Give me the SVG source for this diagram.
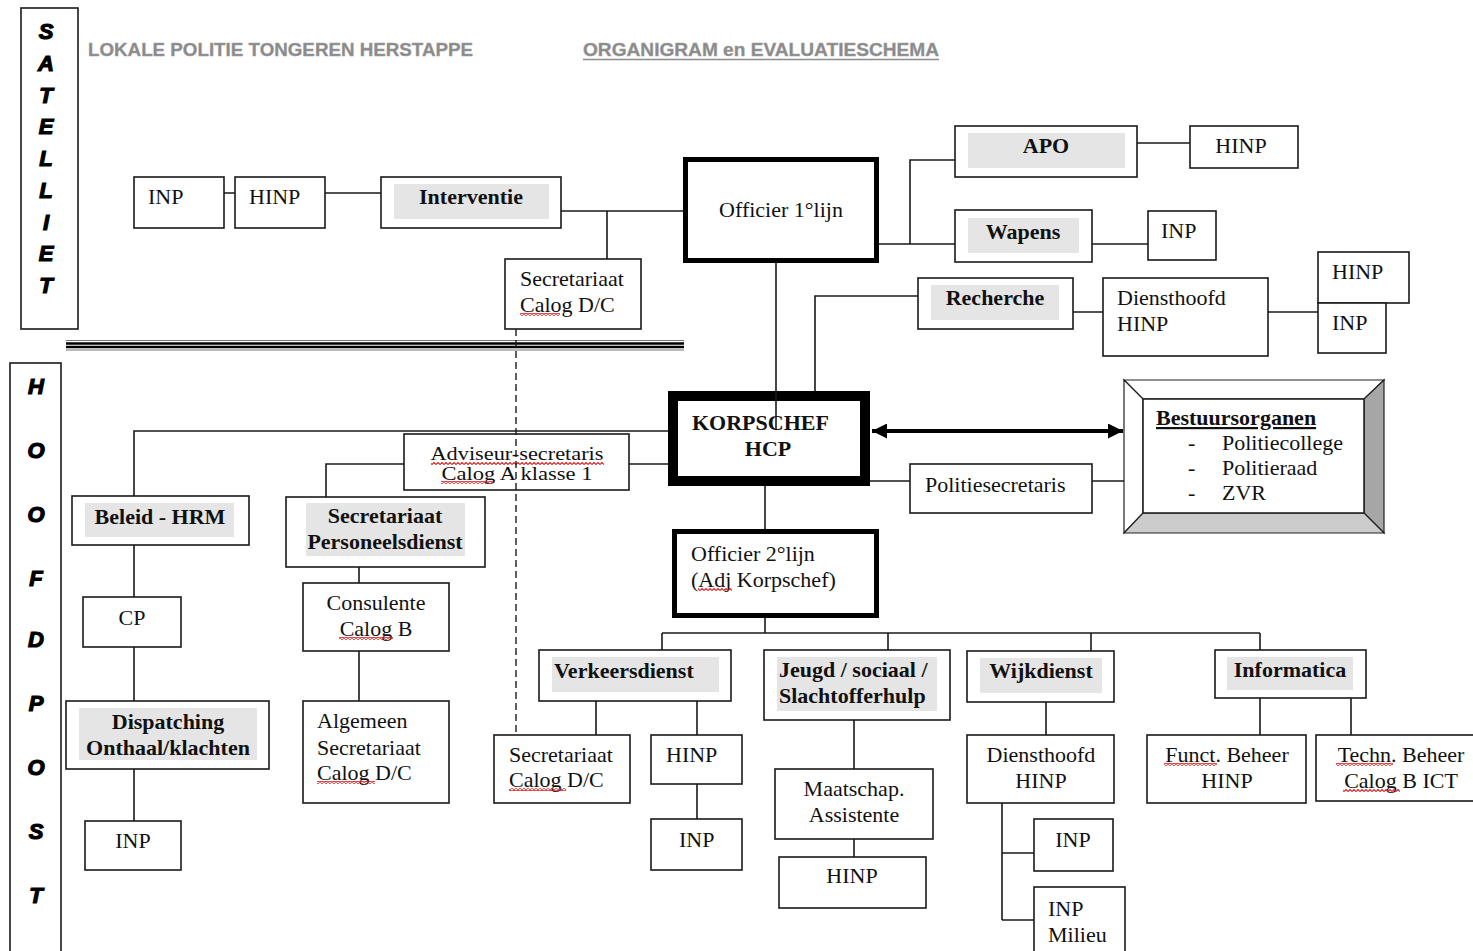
<svg xmlns="http://www.w3.org/2000/svg" width="1473" height="951" viewBox="0 0 1473 951">
<style>
.box{fill:#fff;stroke:#1a1a1a;stroke-width:1.6}
.thk{fill:#fff;stroke:#000;stroke-width:5}
.hl{fill:#e5e5e5}
.t{font-family:"Liberation Serif","Times New Roman",serif;font-size:22px;fill:#111}
.s{font-size:19px}
.b{font-weight:bold}
.c{text-anchor:middle}
.ln{stroke:#1a1a1a;stroke-width:1.6;fill:none}
.vl{font-family:"Liberation Sans",Arial,sans-serif;font-size:22px;font-weight:bold;font-style:italic;fill:#000;stroke:#000;stroke-width:1.2;text-anchor:middle}
.ttl{font-family:"Liberation Sans",Arial,sans-serif;font-size:18px;font-weight:bold;fill:#8a8a8a;stroke:#a0a0a0;stroke-width:0.4}
.sq{fill:url(#sq)}
</style>
<defs>
<pattern id="sq" width="4" height="3" patternUnits="userSpaceOnUse">
<path d="M0,2.5 L2,0.5 L4,2.5" fill="none" stroke="#e02020" stroke-width="1.1"/>
</pattern>
<marker id="ah" viewBox="0 0 10 10" refX="10" refY="5" markerWidth="17" markerHeight="15" markerUnits="userSpaceOnUse" orient="auto-start-reverse">
<path d="M0,0 L10,5 L0,10 z" fill="#000"/>
</marker>
</defs>
<rect width="1473" height="951" fill="#fff"/>

<g id="headers">
<text class="ttl" x="88" y="56" textLength="385" lengthAdjust="spacingAndGlyphs">LOKALE POLITIE TONGEREN HERSTAPPE</text>
<text class="ttl" x="583" y="56" textLength="356" lengthAdjust="spacingAndGlyphs">ORGANIGRAM en EVALUATIESCHEMA</text>
<line x1="583" y1="59.5" x2="939" y2="59.5" stroke="#8c8c8c" stroke-width="1.5"/>
</g>

<g id="satelliet">
<rect class="box" x="21" y="8" width="57" height="321"/>
<text class="vl" x="46" y="39">S</text>
<text class="vl" x="46" y="71">A</text>
<text class="vl" x="46" y="103">T</text>
<text class="vl" x="46" y="134">E</text>
<text class="vl" x="46" y="166">L</text>
<text class="vl" x="46" y="198">L</text>
<text class="vl" x="46" y="230">I</text>
<text class="vl" x="46" y="261">E</text>
<text class="vl" x="46" y="293">T</text>
</g>

<g id="hoofdpost">
<rect class="box" x="10" y="363" width="51" height="600"/>
<text class="vl" x="36" y="394">H</text>
<text class="vl" x="36" y="458">O</text>
<text class="vl" x="36" y="522">O</text>
<text class="vl" x="36" y="586">F</text>
<text class="vl" x="36" y="647">D</text>
<text class="vl" x="36" y="711">P</text>
<text class="vl" x="36" y="775">O</text>
<text class="vl" x="36" y="839">S</text>
<text class="vl" x="36" y="903">T</text>
</g>

<g id="separator">
<line x1="66" y1="340.5" x2="684" y2="340.5" stroke="#777" stroke-width="1"/>
<line x1="66" y1="343.5" x2="684" y2="343.5" stroke="#000" stroke-width="2.5"/>
<line x1="66" y1="347" x2="684" y2="347" stroke="#000" stroke-width="2.5"/>
<line x1="66" y1="350" x2="684" y2="350" stroke="#777" stroke-width="1"/>
</g>

<g id="inp-sat"><rect class="box" x="134" y="177" width="90" height="51"/><text class="t" x="148" y="204">INP</text></g>
<g id="hinp-sat"><rect class="box" x="235" y="177" width="90" height="51"/><text class="t" x="249" y="204">HINP</text></g>
<g id="interventie"><rect class="box" x="381" y="177" width="180" height="51"/><rect class="hl" x="394" y="184" width="155" height="35"/><text class="t b c" x="471" y="204">Interventie</text></g>
<g id="officier1"><rect class="thk" x="685.5" y="159.5" width="191" height="101"/><text class="t c" x="781" y="217">Officier 1°lijn</text></g>
<g id="secretariaat-top"><rect class="box" x="505" y="259" width="136" height="70"/><text class="t" x="520" y="286">Secretariaat</text><text class="t" x="520" y="312">Calog D/C</text><rect class="sq" x="520" y="313" width="40" height="3"/></g>
<g id="apo"><rect class="box" x="955" y="126" width="182" height="51"/><rect class="hl" x="968" y="133" width="157" height="35"/><text class="t b c" x="1046" y="153">APO</text></g>
<g id="hinp-apo"><rect class="box" x="1190" y="126" width="108" height="42"/><text class="t c" x="1241" y="153">HINP</text></g>
<g id="wapens"><rect class="box" x="955" y="210" width="137" height="52"/><rect class="hl" x="968" y="218" width="111" height="35"/><text class="t b c" x="1023" y="239">Wapens</text></g>
<g id="inp-wapens"><rect class="box" x="1148" y="211" width="68" height="49"/><text class="t" x="1161" y="238">INP</text></g>
<g id="recherche"><rect class="box" x="918" y="278" width="155" height="51"/><rect class="hl" x="931" y="285" width="128" height="35"/><text class="t b c" x="995" y="305">Recherche</text></g>
<g id="diensthoofd-rech"><rect class="box" x="1103" y="278" width="165" height="78"/><text class="t" x="1117" y="305">Diensthoofd</text><text class="t" x="1117" y="331">HINP</text></g>
<g id="hinp-rech"><rect class="box" x="1318" y="252" width="91" height="51"/><text class="t" x="1332" y="279">HINP</text></g>
<g id="inp-rech"><rect class="box" x="1318" y="303" width="68" height="50"/><text class="t" x="1332" y="330">INP</text></g>

<g id="korpschef"><rect x="673" y="396" width="192" height="85" fill="#fff" stroke="#000" stroke-width="10"/><text class="t b" x="692" y="430">KORPSCHEF</text><text class="t b c" x="768" y="456">HCP</text></g>
<g id="adviseur"><rect class="box" x="404" y="434" width="225" height="56"/><text class="t s c" x="517" y="460" textLength="173" lengthAdjust="spacingAndGlyphs">Adviseur-secretaris</text><text class="t s c" x="517" y="480" textLength="151" lengthAdjust="spacingAndGlyphs">Calog A klasse 1</text><rect class="sq" x="431" y="462" width="173" height="3"/><rect class="sq" x="441" y="481" width="52" height="3"/></g>
<g id="politiesecretaris"><rect class="box" x="910" y="464" width="182" height="49"/><text class="t" x="925" y="492">Politiesecretaris</text></g>
<g id="bestuursorganen">
<polygon points="1124,380 1384,380 1364,399 1143,399" fill="#fff" stroke="#222" stroke-width="1.2"/>
<polygon points="1124,380 1143,399 1143,513 1124,533" fill="#fff" stroke="#222" stroke-width="1.2"/>
<polygon points="1384,380 1384,533 1364,513 1364,399" fill="#a6a6a6" stroke="#222" stroke-width="1.2"/>
<polygon points="1124,533 1384,533 1364,513 1143,513" fill="#cccccc" stroke="#222" stroke-width="1.2"/>
<rect x="1143" y="399" width="221" height="114" fill="#fff" stroke="#222" stroke-width="1.6"/>
<text class="t b" x="1156" y="425" text-decoration="underline">Bestuursorganen</text>
<text class="t" x="1188" y="450">-</text><text class="t" x="1222" y="450">Politiecollege</text>
<text class="t" x="1188" y="475">-</text><text class="t" x="1222" y="475">Politieraad</text>
<text class="t" x="1188" y="500">-</text><text class="t" x="1222" y="500">ZVR</text>
</g>

<g id="beleid-hrm"><rect class="box" x="72" y="496" width="177" height="49"/><rect class="hl" x="85" y="503" width="149" height="34"/><text class="t b c" x="160" y="524">Beleid - HRM</text></g>
<g id="sec-personeel"><rect class="box" x="286" y="497" width="199" height="70"/><rect class="hl" x="306" y="503" width="159" height="53"/><text class="t b c" x="385" y="523">Secretariaat</text><text class="t b c" x="385" y="549">Personeelsdienst</text></g>
<g id="cp"><rect class="box" x="83" y="597" width="98" height="50"/><text class="t c" x="132" y="625">CP</text></g>
<g id="consulente"><rect class="box" x="303" y="583" width="146" height="68"/><text class="t c" x="376" y="610">Consulente</text><text class="t c" x="376" y="636">Calog B</text><rect class="sq" x="339" y="637" width="54" height="3"/></g>
<g id="dispatching"><rect class="box" x="66" y="701" width="203" height="68"/><rect class="hl" x="79" y="708" width="178" height="52"/><text class="t b c" x="168" y="729">Dispatching</text><text class="t b c" x="168" y="755">Onthaal/klachten</text></g>
<g id="inp-dispatching"><rect class="box" x="85" y="821" width="96" height="49"/><text class="t c" x="133" y="848">INP</text></g>
<g id="algemeen"><rect class="box" x="303" y="701" width="146" height="102"/><text class="t" x="317" y="728">Algemeen</text><text class="t" x="317" y="755">Secretariaat</text><text class="t" x="317" y="780">Calog D/C</text><rect class="sq" x="317" y="781" width="58" height="3"/></g>

<g id="officier2"><rect class="thk" x="674.5" y="531.5" width="202" height="84"/><text class="t" x="691" y="561">Officier 2°lijn</text><text class="t" x="691" y="587">(Adj Korpschef)</text><rect class="sq" x="698" y="588" width="34" height="3"/></g>
<g id="verkeersdienst"><rect class="box" x="539" y="650" width="192" height="51"/><rect class="hl" x="552" y="657" width="167" height="35"/><text class="t b" x="554" y="678">Verkeersdienst</text></g>
<g id="sec-verkeer"><rect class="box" x="494" y="735" width="136" height="68"/><text class="t" x="509" y="762">Secretariaat</text><text class="t" x="509" y="787">Calog D/C</text><rect class="sq" x="509" y="788" width="57" height="3"/></g>
<g id="hinp-verkeer"><rect class="box" x="651" y="735" width="91" height="49"/><text class="t" x="666" y="762">HINP</text></g>
<g id="inp-verkeer"><rect class="box" x="651" y="819" width="91" height="51"/><text class="t" x="679" y="847">INP</text></g>
<g id="jeugd"><rect class="box" x="764" y="650" width="186" height="70"/><rect class="hl" x="777" y="657" width="160" height="54"/><text class="t b" x="779" y="677">Jeugd / sociaal /</text><text class="t b" x="779" y="703">Slachtofferhulp</text></g>
<g id="maatschap"><rect class="box" x="775" y="769" width="158" height="70"/><text class="t c" x="854" y="796">Maatschap.</text><text class="t c" x="854" y="822">Assistente</text></g>
<g id="hinp-jeugd"><rect class="box" x="779" y="857" width="147" height="51"/><text class="t c" x="852" y="883">HINP</text></g>
<g id="wijkdienst"><rect class="box" x="967" y="651" width="147" height="51"/><rect class="hl" x="980" y="658" width="122" height="35"/><text class="t b c" x="1041" y="678">Wijkdienst</text></g>
<g id="diensthoofd-wijk"><rect class="box" x="967" y="735" width="147" height="68"/><text class="t c" x="1041" y="762">Diensthoofd</text><text class="t c" x="1041" y="788">HINP</text></g>
<g id="inp-wijk"><rect class="box" x="1034" y="819" width="79" height="52"/><text class="t c" x="1073" y="847">INP</text></g>
<g id="inp-milieu"><rect class="box" x="1034" y="887" width="91" height="75"/><text class="t" x="1048" y="916">INP</text><text class="t" x="1048" y="942">Milieu</text></g>
<g id="informatica"><rect class="box" x="1215" y="650" width="151" height="48"/><rect class="hl" x="1227" y="657" width="126" height="33"/><text class="t b c" x="1290" y="677">Informatica</text></g>
<g id="funct-beheer"><rect class="box" x="1147" y="735" width="159" height="68"/><text class="t c" x="1227" y="762">Funct. Beheer</text><text class="t c" x="1227" y="788">HINP</text><rect class="sq" x="1164" y="763" width="53" height="3"/></g>
<g id="techn-beheer"><rect class="box" x="1316" y="735" width="162" height="66"/><text class="t c" x="1401" y="762">Techn. Beheer</text><text class="t c" x="1401" y="788">Calog B ICT</text><rect class="sq" x="1336" y="763" width="57" height="3"/><rect class="sq" x="1343" y="789" width="57" height="3"/></g>

<g id="connectors">
<path class="ln" d="M224,193 H235 M325,193 H381 M561,211 H683 M607,211 V259"/>
<path class="ln" d="M776,263 V430"/>
<path class="ln" d="M879,244 H955 M910,244 V160 H955 M1137,143 H1190 M1092,244 H1148"/>
<path class="ln" d="M918,296 H815 V391 M1073,312 H1103 M1268,312 H1318"/>
<line x1="516" y1="329" x2="516" y2="735" stroke="#1a1a1a" stroke-width="1.4" stroke-dasharray="7,4"/>
<path class="ln" d="M668,431 H134 V496 M629,464 H668 M404,464 H326 V497"/>
<path class="ln" d="M134,545 V597 M134,647 V701 M134,769 V821 M359,567 V583 M359,651 V701"/>
<path class="ln" d="M765,486 V529 M765,618 V633 M662,633 H1260 M662,633 V650 M888,633 V650 M1091,633 V651 M1260,633 V650"/>
<path class="ln" d="M596,701 V735 M697,701 V735 M697,784 V819 M854,720 V769 M854,839 V857"/>
<path class="ln" d="M1046,702 V735 M1002,803 V920 M1002,853 H1034 M1002,920 H1034 M1260,698 V735 M1351,698 V735"/>
<path class="ln" d="M870,481 H910 M1092,481 H1124"/>
<line x1="872" y1="431" x2="1123" y2="431" stroke="#000" stroke-width="4" marker-start="url(#ah)" marker-end="url(#ah)"/>
</g>
</svg>
